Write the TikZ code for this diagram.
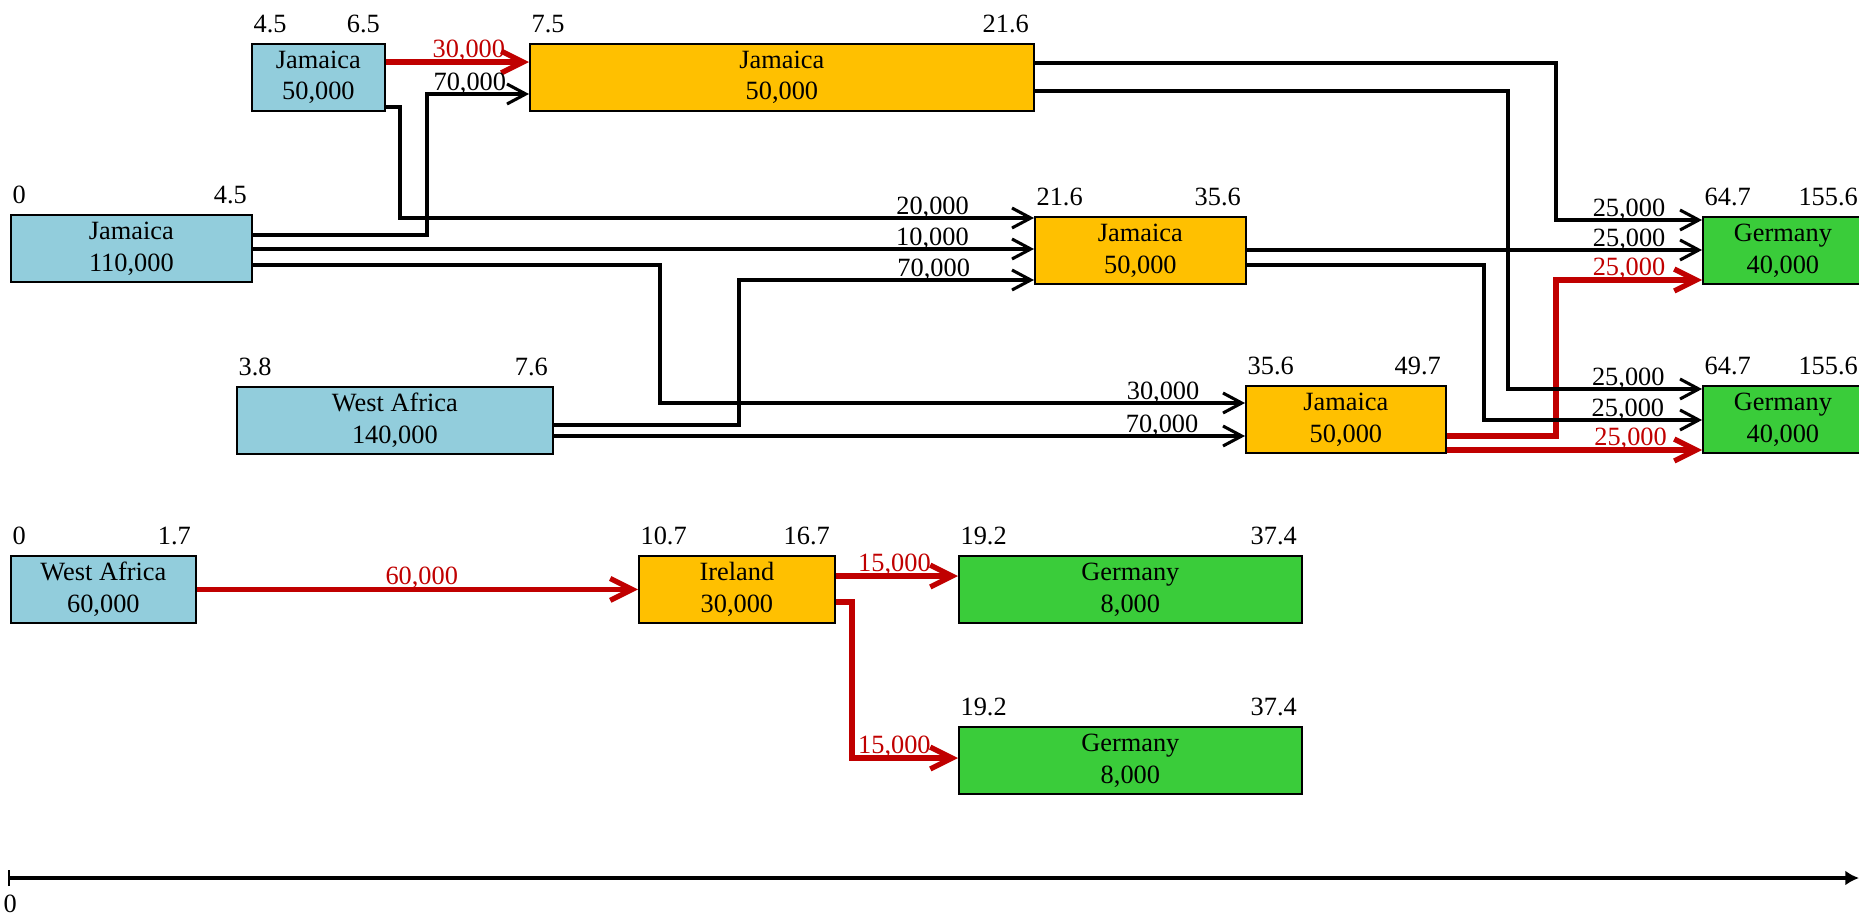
\documentclass[tikz,border=0pt]{standalone}
\usepackage{fontspec}
\setmainfont{Liberation Serif}
\usetikzlibrary{arrows.meta}

\definecolor{srcblue}{RGB}{146,205,220}
\definecolor{hubgold}{RGB}{255,192,0}
\definecolor{sinkgreen}{RGB}{58,204,58}
\definecolor{flowred}{RGB}{192,0,0}

% start / end times over a box
\newcommand{\spanlbl}[3]{%
    \node[tlbl, anchor=south west] (#1-l) at ([xshift=1pt, yshift=4.5pt]#1.north west) {#2};
    \node[tlbl, anchor=south east] (#1-r) at ([xshift=-2.5pt, yshift=4.5pt]#1.north east) {#3};}

\begin{document}
\begin{tikzpicture}[x=0.016cm, y=-0.016cm,
        font=\fontsize{12}{14.5}\selectfont,
        port/.style={draw=black, line width=0.8pt, inner sep=0pt, anchor=north west,
            minimum height=67*0.016cm, align=center},
        wide/.style={minimum width=#1*0.016cm},
        tlbl/.style={inner sep=0pt, text depth=0pt},
        qty/.style={inner sep=0pt, text depth=0pt, above=1pt},
        flow/.style={line width=1.4pt, -{Straight Barb[length=3mm, width=3.2mm]}},
        redflow/.style={line width=2.4pt, draw=flowred, -{Straight Barb[length=3.5mm, width=3.5mm]}}]
    \useasboundingbox (0, 0) rectangle (1859, 918);

    \node[port, fill=srcblue, wide=133] (srcjam50) at (251, 43) {Jamaica\\50,000};
    \node[port, fill=hubgold, wide=504] (hubjam1) at (529, 43) {Jamaica\\50,000};
    \node[port, fill=srcblue, wide=241] (srcjam110) at (10, 214) {Jamaica\\110,000};
    \node[port, fill=hubgold, wide=211] (hubjam2) at (1034, 216) {Jamaica\\50,000};
    \node[port, fill=sinkgreen, wide=160] (dstger1) at (1702, 216) {Germany\\40,000};
    \node[port, fill=srcblue, wide=316] (srcwaf140) at (236, 386) {West Africa\\140,000};
    \node[port, fill=hubgold, wide=200] (hubjam3) at (1245, 385) {Jamaica\\50,000};
    \node[port, fill=sinkgreen, wide=160] (dstger2) at (1702, 385) {Germany\\40,000};
    \node[port, fill=srcblue, wide=185] (srcwaf60) at (10, 555) {West Africa\\60,000};
    \node[port, fill=hubgold, wide=196] (hubire) at (638, 555) {Ireland\\30,000};
    \node[port, fill=sinkgreen, wide=343] (dstger3) at (958, 555) {Germany\\8,000};
    \node[port, fill=sinkgreen, wide=343] (dstger4) at (958, 726) {Germany\\8,000};

    \spanlbl{srcjam50}{4.5}{6.5}
    \spanlbl{hubjam1}{7.5}{21.6}
    \spanlbl{srcjam110}{0}{4.5}
    \spanlbl{hubjam2}{21.6}{35.6}
    \spanlbl{dstger1}{64.7}{155.6}
    \spanlbl{srcwaf140}{3.8}{7.6}
    \spanlbl{hubjam3}{35.6}{49.7}
    \spanlbl{dstger2}{64.7}{155.6}
    \spanlbl{srcwaf60}{0}{1.7}
    \spanlbl{hubire}{10.7}{16.7}
    \spanlbl{dstger3}{19.2}{37.4}
    \spanlbl{dstger4}{19.2}{37.4}

    % first leg
    \draw[redflow] (srcjam50.east |- 0,62) -- node[qty, text=flowred, pos=0.58] {30,000} (hubjam1.west |- 0,62);
    \draw[flow] (srcjam110.east |- 0,235) -- (427,235) |- node[qty, pos=0.71] {70,000} (hubjam1.west |- 0,94);
    \draw[flow] (srcjam50.east |- 0,107) -- (400,107) |- node[qty, pos=0.92] {20,000} (hubjam2.west |- 0,218);
    \draw[flow] (srcjam110.east |- 0,249) -- node[qty, pos=0.87] {10,000} (hubjam2.west |- 0,249);
    \draw[flow] (srcwaf140.east |- 0,425) -- (739,425) |- node[qty, pos=0.83] {70,000} (hubjam2.west |- 0,280);
    \draw[flow] (srcjam110.east |- 0,265) -- (660,265) |- node[qty, pos=0.93] {30,000} (hubjam3.west |- 0,403);
    \draw[flow] (srcwaf140.east |- 0,436) -- node[qty, pos=0.88] {70,000} (hubjam3.west |- 0,436);

    % second leg
    \draw[flow] (hubjam1.east |- 0,63) -- (1556,63) |- node[qty, pos=0.75] {25,000} (dstger1.west |- 0,220);
    \draw[flow] (hubjam2.east |- 0,250) -- node[qty, pos=0.84] {25,000} (dstger1.west |- 0,250);
    \draw[redflow] (hubjam3.east |- 0,436) -- (1556,436) |- node[qty, text=flowred, pos=0.75] {25,000} (dstger1.west |- 0,280);
    \draw[flow] (hubjam1.east |- 0,91) -- (1508,91) |- node[qty, pos=0.81] {25,000} (dstger2.west |- 0,389);
    \draw[flow] (hubjam2.east |- 0,265) -- (1484,265) |- node[qty, pos=0.83] {25,000} (dstger2.west |- 0,420);
    \draw[redflow] (hubjam3.east |- 0,450) -- node[qty, text=flowred, pos=0.72] {25,000} (dstger2.west |- 0,450);

    % via Ireland
    \draw[redflow] (srcwaf60.east) -- node[qty, text=flowred, pos=0.51] {60,000} (hubire.west);
    \draw[redflow] (hubire.east |- 0,576) -- node[qty, text=flowred, pos=0.48] {15,000} (dstger3.west |- 0,576);
    \draw[redflow] (hubire.east |- 0,602) -- (852,602) |- node[qty, text=flowred, pos=0.7] {15,000} (dstger4.west |- 0,758);

    % time axis
    \coordinate (ax0) at (8, 878);
    \coordinate (ax1) at (1859, 878);
    \draw[line width=1.8pt, {Bar[width=2.6mm, line width=0.9pt]}-{Latex[length=2.2mm, width=2.4mm]}] (ax0) -- (ax1);
    \node[tlbl, anchor=north] (ax0-lbl) at ([xshift=1pt, yshift=-7.5pt]ax0) {0};
\end{tikzpicture}
\end{document}
